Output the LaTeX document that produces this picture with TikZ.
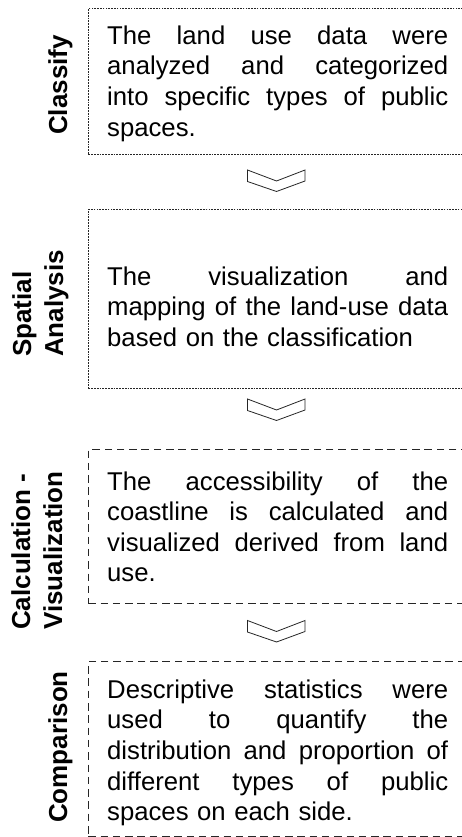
\documentclass[tikz,border=0pt]{standalone}
\usepackage{fontspec}
\setmainfont{Liberation Sans}
\usetikzlibrary{calc}
\newcommand{\jline}[1]{\makebox[341pt][s]{\spaceskip=0.28em plus 1em\relax #1}\\}
\begin{document}
\begin{tikzpicture}[x=1pt,y=-1pt,
  finebox/.style={draw=black!85, line width=0.9pt, dash pattern=on 1.7pt off 1.1pt, inner sep=0pt, anchor=north west},
  coarsebox/.style={draw=black!85, line width=1.4pt, dash pattern=on 7.5pt off 4.8pt, inner sep=0pt, anchor=north west},
  bodytext/.style={anchor=base west, inner sep=0pt, text width=341pt, align=left,
    font=\fontsize{25.7}{30.6}\selectfont},
  steplabel/.style={rotate=90, anchor=base west, inner sep=0pt, align=left,
    font=\fontsize{26}{32}\selectfont\bfseries},
  chev/.style={draw=black!85, line width=0.8pt, line join=miter}
]
\useasboundingbox (0,0) rectangle (461,837);
\fill[white] (0,0) rectangle (461,837);

% boxes
\node[finebox, minimum width=390pt, minimum height=146pt] (b1) at (88,8) {};
\node[finebox, minimum width=390pt, minimum height=179pt] (b2) at (88,209) {};
\node[coarsebox, minimum width=390pt, minimum height=154pt] (b3) at (87.5,449) {};
\node[coarsebox, minimum width=390pt, minimum height=175pt] (b4) at (87.5,661) {};

% body texts
\node[bodytext] (t1) at (107,44.3) {\jline{The land use data were}\jline{analyzed and categorized}\jline{into specific types of public}spaces.};
\node[bodytext] (t2) at (107,285) {\jline{The visualization and}\jline{mapping of the land-use data}based on the classification};
\node[bodytext] (t3) at (107,490) {\jline{The accessibility of the}\jline{coastline is calculated and}\jline{visualized derived from land}use.};
\node[bodytext] (t4) at (107,698.3) {\jline{Descriptive statistics were}\jline{used to quantify the}\jline{distribution and proportion of}\jline{different types of public}spaces on each side.};

% labels
\node[steplabel] (l1) at (67,135) {Classify};
\node[steplabel] (l2) at (63,357) {Spatial\\Analysis};
\node[steplabel] (l3) at (62,630) {Calculation -\\Visualization};
\node[steplabel] (l4) at (67,823) {Comparison};

% chevrons
\foreach \n/\yy in {c1/170, c2/399, c3/620.5}{
  \coordinate (\n) at (276.5,\yy);
  \draw[chev] ($(\n)+(-29,0)$) -- ($(\n)+(-29,11.5)$) -- ($(\n)+(0,21.5)$) -- ($(\n)+(28.5,11)$) -- ($(\n)+(28.5,0)$) -- ($(\n)+(0,11)$) -- cycle;
}
\end{tikzpicture}
\end{document}
